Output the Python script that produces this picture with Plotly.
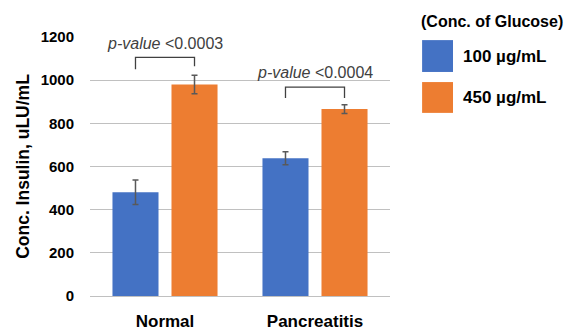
import plotly.graph_objects as go

categories = ["Normal", "Pancreatitis"]
series_names = ["100 µg/mL", "450 µg/mL"]
low_glucose = [481, 638]
low_err = [57, 30]
high_glucose = [980, 866]
high_err = [43, 20]
pvalue_labels = ["<i>p-value</i> <0.0003", "<i>p-value</i> <0.0004"]
bracket_top = [1106, 968]
bracket_left_end = [1051, 917]
bracket_right_end = [1065, 917]
label_y = [1171, 1037]
y_ticks = [0, 200, 400, 600, 800, 1000, 1200]

BLUE = "#4472C4"
ORANGE = "#ED7D31"
FONT = "Liberation Sans, Arial, sans-serif"

fig = go.Figure()
fig.add_trace(go.Bar(
    x=categories, y=low_glucose, name=series_names[0], marker_color=BLUE,
    marker_line_width=0,
    error_y=dict(type="data", array=low_err, color="#595959", thickness=1.5, width=3),
))
fig.add_trace(go.Bar(
    x=categories, y=high_glucose, name=series_names[1], marker_color=ORANGE,
    marker_line_width=0,
    error_y=dict(type="data", array=high_err, color="#595959", thickness=1.5, width=3),
))

bargap = 0.213
half = (1 - bargap) / 4
for i in range(len(categories)):
    xl, xr = i - half, i + half
    fig.add_shape(type="path",
                  path=f"M {xl} {bracket_left_end[i]} L {xl} {bracket_top[i]} L {xr} {bracket_top[i]} L {xr} {bracket_right_end[i]}",
                  xref="x", yref="y", line=dict(color="#404040", width=1.3))
    fig.add_annotation(x=i, y=label_y[i], xref="x", yref="y", text=pvalue_labels[i],
                       showarrow=False, xanchor="center", yanchor="middle",
                       font=dict(family=FONT, size=16, color="#404040"))

# manual legend
fig.add_annotation(x=1.34, y=1.058, xref="paper", yref="paper", text="<b>(Conc. of Glucose)</b>",
                   showarrow=False, xanchor="center", yanchor="middle",
                   font=dict(family=FONT, size=16, color="#000"))
legend_rows = [(0.865, 0.988, 0.923), (0.707, 0.826, 0.768)]
for (y0, y1, ty), name, col in zip(legend_rows, series_names, [BLUE, ORANGE]):
    fig.add_shape(type="rect", xref="paper", yref="paper", x0=1.107, x1=1.21, y0=y0, y1=y1,
                  fillcolor=col, line_width=0)
    fig.add_annotation(x=1.235, y=ty, xref="paper", yref="paper", text=f"<b>{name}</b>",
                       showarrow=False, xanchor="left", yanchor="middle",
                       font=dict(family=FONT, size=17, color="#000"))

fig.update_layout(
    width=568, height=330,
    margin=dict(l=90, r=178, t=37, b=34),
    paper_bgcolor="white", plot_bgcolor="white",
    barmode="group", bargap=bargap, bargroupgap=0.22,
    showlegend=False,
    font=dict(family=FONT, color="#000"),
)
fig.update_xaxes(
    automargin=False,
    showgrid=False, showline=False, ticks="outside", ticklen=10, tickcolor="rgba(0,0,0,0)",
    tickfont=dict(family=FONT, size=17, color="#000", weight="bold"),
)
fig.update_yaxes(
    automargin=False,
    range=[0, 1200], tickvals=y_ticks, showgrid=True, gridcolor="#C0C0C0", gridwidth=1,
    zeroline=True, zerolinecolor="#C0C0C0", zerolinewidth=1,
    ticks="outside", ticklen=12, tickcolor="rgba(0,0,0,0)",
    tickfont=dict(family=FONT, size=15, color="#000", weight="bold"),
    title=dict(text="<b>Conc. Insulin, uLU/mL</b>", font=dict(family=FONT, size=17.5, color="#000"), standoff=6),
)

fig.write_html("out.html")
